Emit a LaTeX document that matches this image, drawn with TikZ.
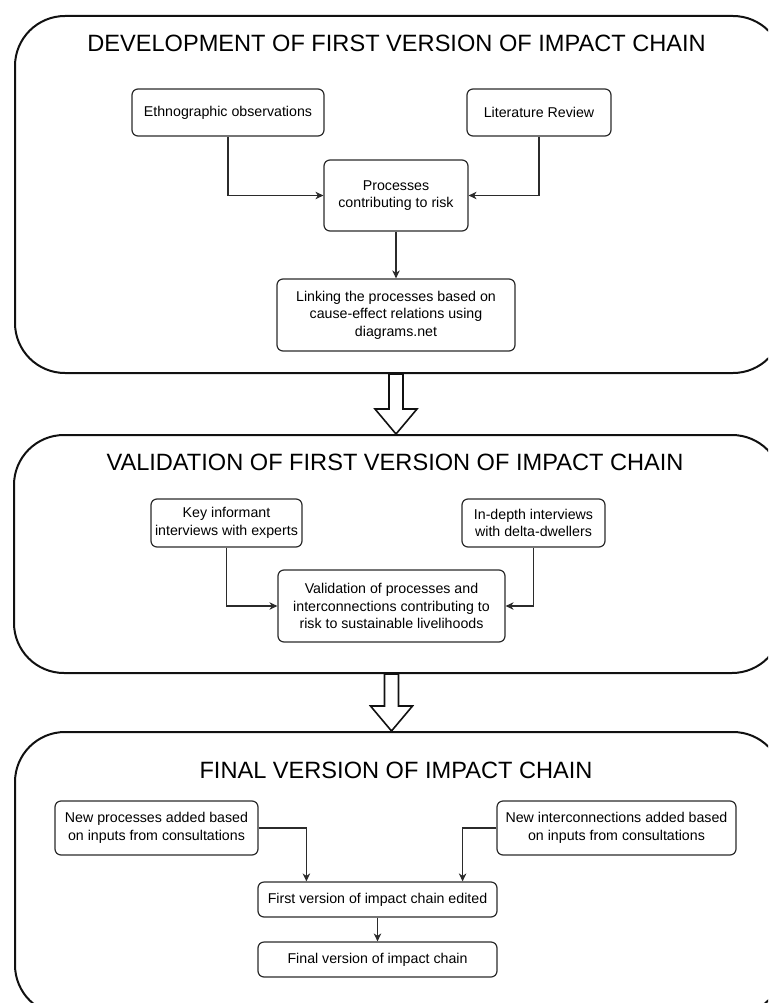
\documentclass[tikz,border=0pt]{standalone}
\usepackage{fontspec}
\setmainfont{Liberation Sans}
\usepackage{tikz}
\usetikzlibrary{arrows.meta,calc,positioning}
\definecolor{ink}{HTML}{111111}
\definecolor{wire}{HTML}{2B2B2B}
\tikzset{panel/.style={draw=ink,line width=2pt,rounded corners=50pt,inner sep=0pt}, paneltitle/.style={anchor=base,inner sep=0pt,font=\fontsize{23.6}{28}\selectfont}, procbox/.style={draw=wire,line width=1.2pt,rounded corners=6pt,fill=white,inner sep=0pt,align=center,font=\fontsize{14.2}{17.6}\selectfont}, flow/.style={draw=wire,line width=1.2pt,-{Stealth[length=8pt,width=7.5pt,inset=2.5pt]}}, blockarrow/.style={draw=ink,fill=white,line width=1.6pt,line join=miter}}

\begin{document}
\begin{tikzpicture}[x=1pt,y=-1pt]
\useasboundingbox (0,0) rectangle (768,1003);
\clip (0,0) rectangle (768,1003);
\node[panel,minimum width=768pt,minimum height=357pt] (devpanel) at (399,194.5) {};
\node[panel,minimum width=768pt,minimum height=238pt] (valpanel) at (398,554) {};
\node[panel,minimum width=768pt,minimum height=283pt] (finpanel) at (399,873.5) {};
\node[paneltitle] (devtitle) at (396.5,52) {DEVELOPMENT OF FIRST VERSION OF IMPACT CHAIN};
\node[paneltitle] (valtitle) at (395,470) {VALIDATION OF FIRST VERSION OF IMPACT CHAIN};
\node[paneltitle] (fintitle) at (396,778) {FINAL VERSION OF IMPACT CHAIN};

\node[procbox,minimum width=192pt,minimum height=47pt] (ethno) at (228,112.5) {Ethnographic observations};
\node[procbox,minimum width=144pt,minimum height=47pt] (litrev) at (539,112.5) {Literature Review};
\node[procbox,minimum width=144pt,minimum height=71pt] (procs) at (396,195.5) {Processes\\contributing to risk};
\node[procbox,minimum width=238pt,minimum height=72pt] (link) at (396,315) {Linking the processes based on\\cause-effect relations using\\diagrams.net};
\draw[flow] (ethno.south) |- (procs.west);
\draw[flow] (litrev.south) |- (procs.east);
\draw[flow] (procs) -- (link);

\node[procbox,minimum width=151pt,minimum height=48pt] (keyinf) at (226.5,523) {Key informant\\interviews with experts};
\node[procbox,minimum width=143pt,minimum height=48pt] (indepth) at (533.5,523) {In-depth interviews\\with delta-dwellers};
\node[procbox,minimum width=227pt,minimum height=72pt] (validate) at (391.5,606) {Validation of processes and\\interconnections contributing to\\risk to sustainable livelihoods};
\draw[flow] (keyinf.south) |- (validate.west);
\draw[flow] (indepth.south) |- (validate.east);

\node[procbox,minimum width=203pt,minimum height=54pt] (newproc) at (156.5,828) {New processes added based\\on inputs from consultations};
\node[procbox,minimum width=239pt,minimum height=54pt] (newint) at (616.5,828) {New interconnections added based\\on inputs from consultations};
\node[procbox,minimum width=239pt,minimum height=35pt] (firstver) at (377.5,899.5) {First version of impact chain edited};
\node[procbox,minimum width=239pt,minimum height=35pt] (finalver) at (377.5,959.5) {Final version of impact chain};
\draw[flow] (newproc.east) -| ([xshift=49pt]firstver.north west);
\draw[flow] (newint.west) -| ([xshift=-35pt]firstver.north east);
\draw[flow] (firstver) -- (finalver);

\foreach \from/\to/\via in {devpanel/valpanel/procs,valpanel/finpanel/validate}{
 \coordinate (s) at (\from.south -| \via.south);
 \coordinate (t) at (\to.north -| \via.south);
 \draw[blockarrow] ($(s)+(-7,0)$) -- ($(t)+(-7,-25)$) -- ($(t)+(-21,-25)$) -- (t) -- ($(t)+(21,-25)$) -- ($(t)+(7,-25)$) -- ($(s)+(7,0)$) -- cycle;
}
\end{tikzpicture}
\end{document}
